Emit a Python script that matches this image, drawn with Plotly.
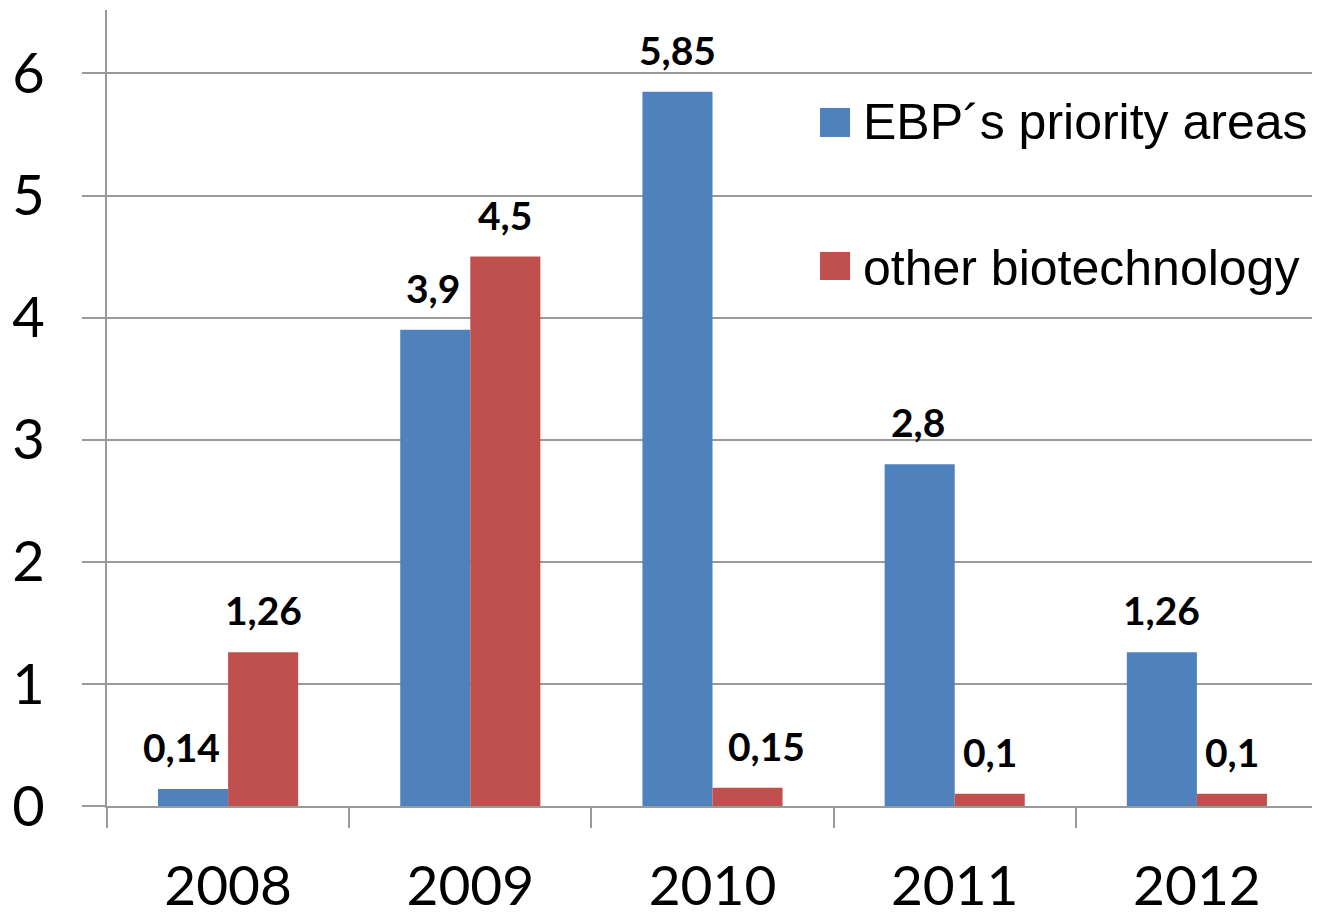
import plotly.graph_objects as go

years = ["2008", "2009", "2010", "2011", "2012"]
ebp_priority = [0.14, 3.9, 5.85, 2.8, 1.26]
other_biotech = [1.26, 4.5, 0.15, 0.1, 0.1]
ebp_labels = ["0,14", "3,9", "5,85", "2,8", "1,26"]
other_labels = ["1,26", "4,5", "0,15", "0,1", "0,1"]
series_names = ["EBP´s priority areas", "other biotechnology"]

BLUE = "#4F81BD"
RED = "#C0504D"
GRID = "#9a9a9a"

fig = go.Figure()
fig.add_trace(go.Bar(x=years, y=ebp_priority, name=series_names[0],
                     marker=dict(color=BLUE, line=dict(width=0)), showlegend=False))
fig.add_trace(go.Bar(x=years, y=other_biotech, name=series_names[1],
                     marker=dict(color=RED, line=dict(width=0)), showlegend=False))

# data labels (nudges are layout-only offsets); category index used as x position
ebp_nudge = [-12, -2, 0, -2, 0]
oth_nudge = [0, 0, 19, 0, 0]
label_font = dict(family="Lato", size=39, color="black", weight="bold")
for i, yr in enumerate(years):
    fig.add_annotation(x=i, y=ebp_priority[i], text="<b>%s</b>" % ebp_labels[i],
                       xshift=-35 + ebp_nudge[i], yshift=42, yanchor="middle",
                       showarrow=False, font=label_font)
    fig.add_annotation(x=i, y=other_biotech[i], text="<b>%s</b>" % other_labels[i],
                       xshift=35 + oth_nudge[i], yshift=42, yanchor="middle",
                       showarrow=False, font=label_font)

# legend (drawn manually to allow large square keys)
legend_font = dict(family="Liberation Sans", size=50, color="black")
for color, name, y0, y1, yt in [(BLUE, series_names[0], 0.8405, 0.8769, 0.8593),
                                (RED, series_names[1], 0.6608, 0.6960, 0.6759)]:
    fig.add_shape(type="rect", xref="paper", yref="paper",
                  x0=0.5888, x1=0.6136, y0=y0, y1=y1,
                  fillcolor=color, line=dict(width=0))
    fig.add_annotation(xref="paper", yref="paper", x=0.623, y=yt, text=name,
                       xanchor="left", yanchor="middle", showarrow=False, font=legend_font)

fig.update_layout(
    width=1320, height=915,
    margin=dict(l=99, r=10, t=2, b=117),
    paper_bgcolor="white", plot_bgcolor="white",
    barmode="group", bargap=0.4215, bargroupgap=0,
    xaxis=dict(
        type="category", range=[-0.5, 4.5], showline=True, linecolor=GRID, linewidth=2,
        ticks="outside", tickson="boundaries", ticklen=20, tickwidth=2, tickcolor=GRID,
        showgrid=False, tickfont=dict(family="Lato", size=55, color="black"),
        ticklabelstandoff=31, tickangle=0, automargin=False,
    ),
    yaxis=dict(
        range=[0, 6.52], tickvals=[0, 1, 2, 3, 4, 5, 6],
        showline=True, linecolor=GRID, linewidth=2,
        ticks="outside", ticklen=23, tickwidth=2, tickcolor=GRID,
        showgrid=True, gridcolor=GRID, gridwidth=2, zeroline=False,
        tickfont=dict(family="Lato", size=56, color="black"),
        ticklabelstandoff=26, automargin=False,
    ),
)

fig.write_html("out.html")
